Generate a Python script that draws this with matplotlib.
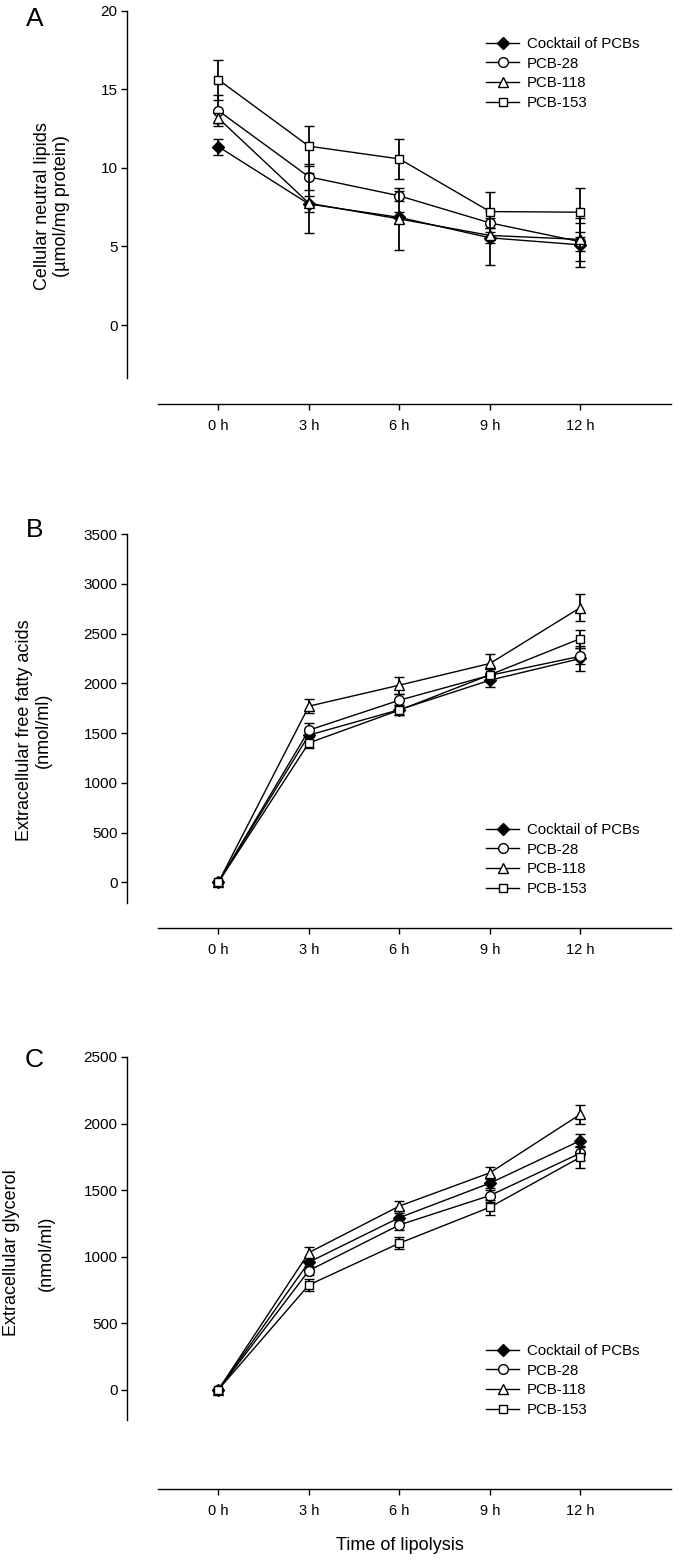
import matplotlib.pyplot as plt
import numpy as np

plt.rcParams['font.family'] = ['Liberation Sans', 'DejaVu Sans']

# time points (h)
hours = [0, 3, 6, 9, 12]
hour_labels = ['0 h', '3 h', '6 h', '9 h', '12 h']
series = ['Cocktail of PCBs', 'PCB-28', 'PCB-118', 'PCB-153']

# A - cellular neutral lipids (umol/mg protein)
a_cocktail = [11.35, 7.7, 6.85, 5.55, 5.1]
a_pcb28 = [13.64, 9.43, 8.22, 6.5, 5.3]
a_pcb118 = [13.16, 7.75, 6.75, 5.7, 5.45]
a_pcb153 = [15.61, 11.38, 10.57, 7.22, 7.18]
a_cocktail_err = [0.5, 0.5, 0.35, 1.7, 1.4]
a_pcb28_err = [1.0, 0.84, 0.3, 0.3, 0.6]
a_pcb118_err = [0.3, 1.9, 2.0, 0.5, 1.35]
a_pcb153_err = [1.26, 1.27, 1.27, 1.27, 1.57]

# B - extracellular free fatty acids (nmol/ml)
b_cocktail = [0, 1479, 1735, 2031, 2249]
b_pcb28 = [0, 1529, 1830, 2080, 2272]
b_pcb118 = [0, 1770, 1981, 2199, 2761]
b_pcb153 = [0, 1401, 1730, 2085, 2449]
b_cocktail_err = [0, 60, 50, 70, 130]
b_pcb28_err = [0, 70, 67, 60, 80]
b_pcb118_err = [0, 70, 85, 100, 140]
b_pcb153_err = [0, 55, 50, 60, 90]

# C - extracellular glycerol (nmol/ml)
c_cocktail = [0, 958, 1293, 1552, 1872]
c_pcb28 = [0, 895, 1238, 1459, 1778]
c_pcb118 = [0, 1030, 1380, 1630, 2070]
c_pcb153 = [0, 787, 1101, 1371, 1747]
c_cocktail_err = [0, 40, 35, 40, 52]
c_pcb28_err = [0, 35, 36, 45, 50]
c_pcb118_err = [0, 40, 40, 45, 70]
c_pcb153_err = [0, 42, 45, 57, 78]

markers = ['D', 'o', '^', 's']
faces = ['black', 'white', 'white', 'white']
sizes = [6.5, 7, 7.5, 6.2]

W, H = 684, 1563
fig = plt.figure(figsize=(W / 100, H / 100), dpi=100)


def px_axes(left, top, right, bottom):
    return fig.add_axes([left / W, 1 - bottom / H, (right - left) / W, (bottom - top) / H])


def draw_panel(ax, vals, errs, ylim, yticks, xoff, legend_loc):
    for i in range(4):
        ax.errorbar(hours, vals[i], yerr=errs[i], color='black', lw=1.0,
                    marker=markers[i], mfc=faces[i], mec='black', ms=sizes[i],
                    mew=1.0, capsize=3.5, capthick=1.3, elinewidth=1.3,
                    label=series[i], zorder=3 + i)
    ax.set_xlim(-2, 15)
    ax.set_ylim(*ylim)
    ax.set_yticks(yticks)
    ax.set_xticks(hours)
    ax.set_xticklabels(hour_labels)
    for s in ['top', 'right']:
        ax.spines[s].set_visible(False)
    ax.spines['left'].set_position(('outward', 22))
    ax.spines['bottom'].set_position(('outward', xoff))
    ax.spines['left'].set_linewidth(1.0)
    ax.spines['bottom'].set_linewidth(1.0)
    ax.tick_params(direction='out', length=4, width=1.0, pad=3)
    ax.tick_params(axis='y', labelsize=11)
    ax.tick_params(axis='x', labelsize=10.5, pad=7)
    handles, labels = ax.get_legend_handles_labels()
    handles = [h[0] for h in handles]
    ax.legend(handles, labels, loc='upper left', bbox_to_anchor=legend_loc,
              bbox_transform=fig.transFigure, frameon=False, fontsize=10.8,
              handlelength=2.2, handletextpad=0.55, labelspacing=0.38,
              borderpad=0, borderaxespad=0)


def ylabel_lines(lines, xs, yc):
    for txt, x in zip(lines, xs):
        fig.text(x / W, 1 - yc / H, txt, rotation=90, fontsize=13,
                 ha='center', va='center')


def letter(txt, x, y):
    fig.text(x / W, 1 - y / H, txt, fontsize=19, ha='center', va='center')


# panel A
axA = px_axes(158, 10.7, 671, 377.7)
draw_panel(axA,
           [a_cocktail, a_pcb28, a_pcb118, a_pcb153],
           [a_cocktail_err, a_pcb28_err, a_pcb118_err, a_pcb153_err],
           (-3.35, 20), [0, 5, 10, 15, 20], 19, (486 / W, 1 - 37 / H))
ylabel_lines(['Cellular neutral lipids', '(µmol/mg protein)'], [42.7, 61.7], 206)
letter('A', 34.5, 18.5)

# panel B
axB = px_axes(158, 534, 671, 903.3)
draw_panel(axB,
           [b_cocktail, b_pcb28, b_pcb118, b_pcb153],
           [b_cocktail_err, b_pcb28_err, b_pcb118_err, b_pcb153_err],
           (-211, 3500), [0, 500, 1000, 1500, 2000, 2500, 3000, 3500],
           17.5, (486 / W, 1 - 823 / H))
ylabel_lines(['Extracellular free fatty acids', '(nmol/ml)'], [25, 43.3], 730)
letter('B', 34.5, 530)

# panel C
axC = px_axes(158, 1057, 671, 1420)
draw_panel(axC,
           [c_cocktail, c_pcb28, c_pcb118, c_pcb153],
           [c_cocktail_err, c_pcb28_err, c_pcb118_err, c_pcb153_err],
           (-228, 2500), [0, 500, 1000, 1500, 2000, 2500],
           49.5, (486 / W, 1 - 1344 / H))
ylabel_lines(['Extracellular glycerol', '(nmol/ml)'], [12, 46.7], 1253)
letter('C', 34.5, 1060)
fig.text(400 / W, 1 - 1546 / H, 'Time of lipolysis', fontsize=13,
         ha='center', va='center')

fig.savefig('out.png', dpi=100)
